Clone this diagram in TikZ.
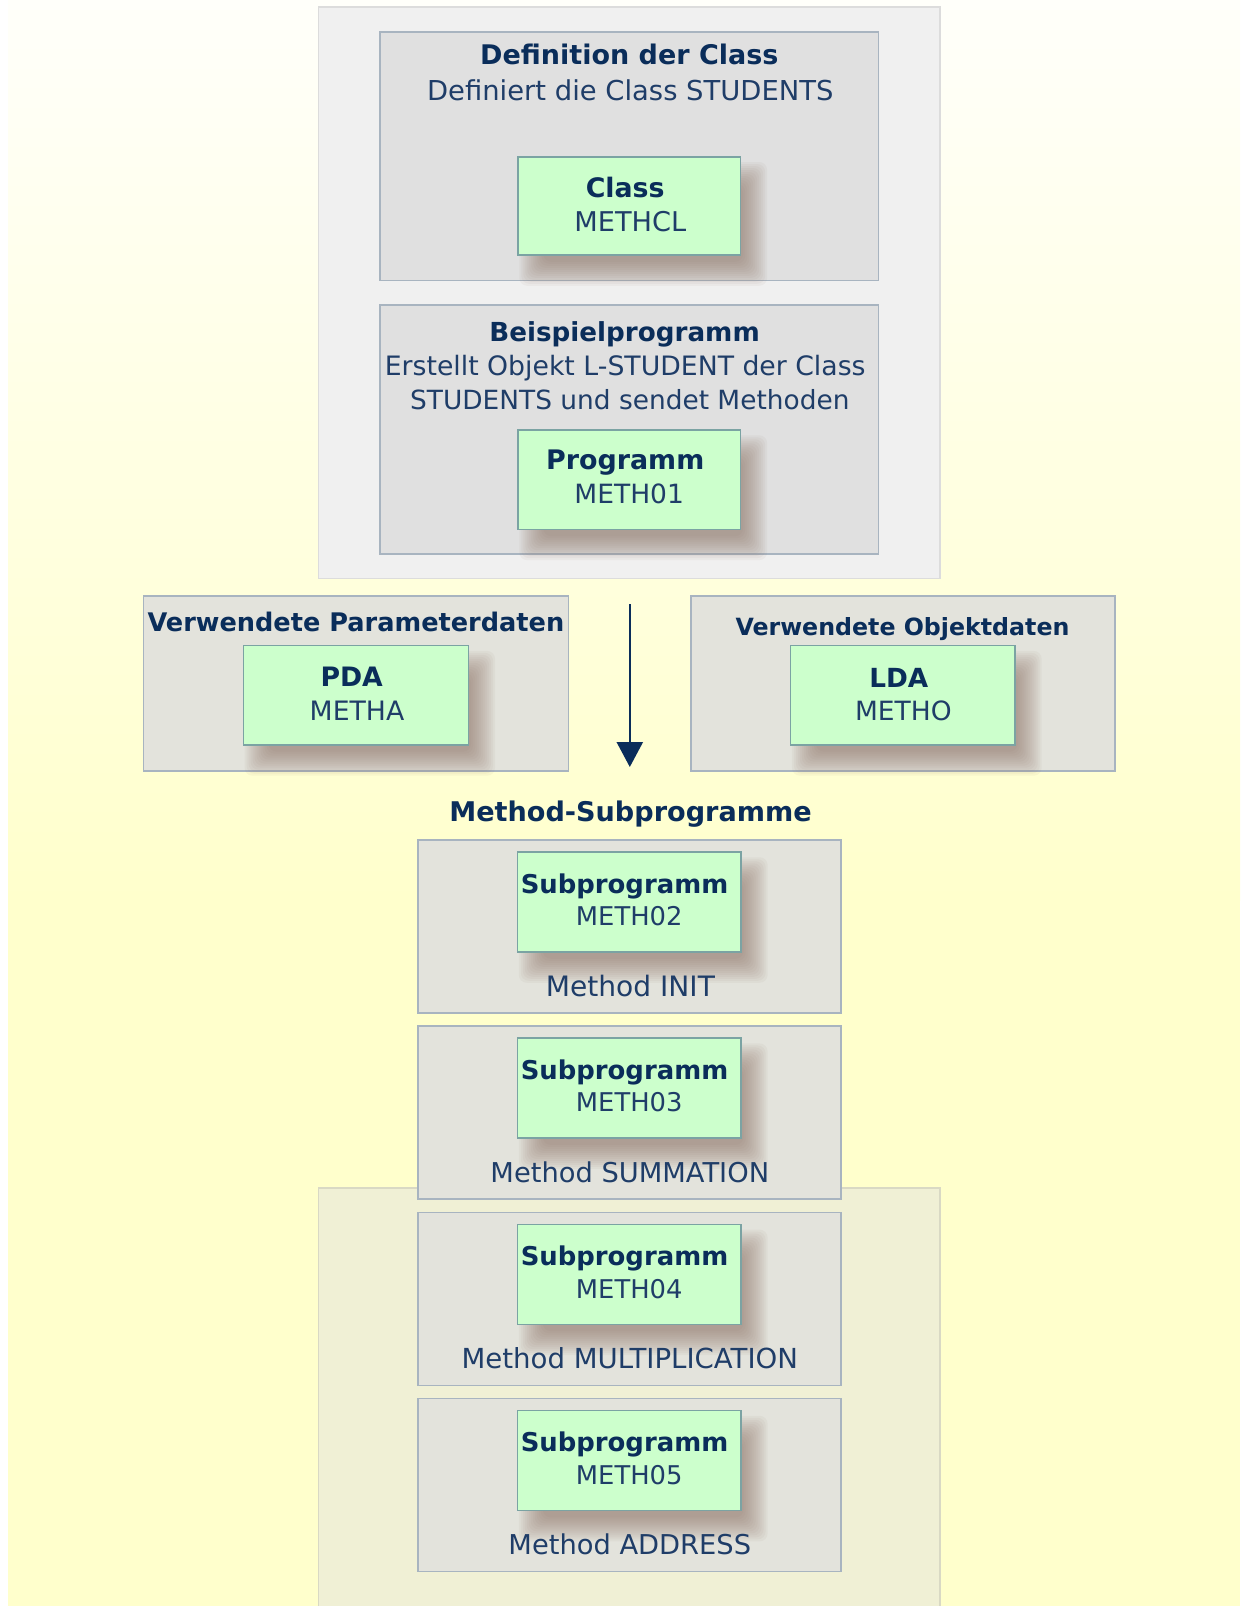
\documentclass[tikz,border=0pt]{standalone}
\usepackage{fontspec}
\setmainfont{DejaVu Sans}
\usetikzlibrary{arrows.meta}
\pgfdeclarelayer{back}
\pgfdeclarelayer{shd}
\pgfsetlayers{back,shd,main}
\definecolor{bgY}{HTML}{FFFFCC}
\definecolor{bgTop}{HTML}{FFFFFA}
\definecolor{panelTop}{HTML}{F0F0F0}
\definecolor{panelTopB}{HTML}{DCDCDC}
\definecolor{panelBot}{HTML}{F0F0D5}
\definecolor{panelBotB}{HTML}{D9D9C4}
\definecolor{boxTop}{HTML}{E0E0E0}
\definecolor{boxLow}{HTML}{E3E3DC}
\definecolor{boxB}{HTML}{A8B4C0}
\definecolor{gfill}{HTML}{CCFFCC}
\definecolor{gborder}{HTML}{7BA3A3}
\definecolor{shadowc}{HTML}{8A6E60}
\definecolor{navyB}{HTML}{0A2D5A}
\definecolor{textN}{HTML}{1F3D68}
\newcommand\myfs[1]{\fontsize{#1}{#1}\selectfont}
\newcommand\myshadow[1]{%
  \begin{pgfonlayer}{shd}
  \foreach \i in {-12,-10,...,12}{
    \fill[shadowc, fill opacity=0.06, rounded corners=8pt]
      ([shift={(14+\i,18+\i)}]#1.north west) rectangle ([shift={(14-\i,18-\i)}]#1.south east);
  }
  \end{pgfonlayer}}
\tikzset{
  panelT/.style={draw=panelTopB, fill=panelTop, line width=1.5pt, inner sep=0pt},
  panelB/.style={draw=panelBotB, fill=panelBot, line width=1.5pt, inner sep=0pt},
  greyT/.style={draw=boxB, fill=boxTop, line width=1.5pt, inner sep=0pt},
  greyL/.style={draw=boxB, fill=boxLow, line width=1.5pt, inner sep=0pt},
  gbox/.style={draw=gborder, fill=gfill, line width=1.5pt, inner sep=0pt},
  tb/.style={text=navyB, font=\bfseries, inner sep=0pt, anchor=base},
  tn/.style={text=textN, inner sep=0pt, anchor=base},
  arr/.style={line width=2.5pt, draw=navyB, -{Triangle[width=26pt,length=25pt]}}
}
\begin{document}
\begin{tikzpicture}[x=1pt,y=-1pt]
\useasboundingbox (0,0) rectangle (1240,1606);
\begin{pgfonlayer}{back}
\fill[white] (0,0) rectangle (1240,1606);
\shade[top color=bgTop, bottom color=bgY] (8,0) rectangle (1240,900);
\fill[bgY] (8,899) rectangle (1240,1606);
% top panel
\node[panelT, minimum width=621.5pt, minimum height=571.6pt] (toppanel) at (629.3,292.8) {};
\node[greyT, minimum width=498.6pt, minimum height=248.9pt] (defbox) at (629.3,156.2) {};
\node[greyT, minimum width=498.6pt, minimum height=248.8pt] (beibox) at (629.3,429.6) {};
% data boxes
\node[greyL, minimum width=424.9pt, minimum height=175pt] (pbox) at (355.9,683.3) {};
\node[greyL, minimum width=423.8pt, minimum height=175pt] (obox) at (903.1,683.3) {};
% bottom panel
\node[panelB, minimum width=621.5pt, minimum height=432pt] (botpanel) at (629.3,1403.8) {};
% subprogram boxes
\node[greyL, minimum width=422.9pt, minimum height=173pt] (s1) at (629.3,926.5) {};
\node[greyL, minimum width=422.9pt, minimum height=173pt] (s2) at (629.3,1112.7) {};
\node[greyL, minimum width=422.9pt, minimum height=173pt] (s3) at (629.3,1298.9) {};
\node[greyL, minimum width=422.9pt, minimum height=173pt] (s4) at (629.3,1485.1) {};
\end{pgfonlayer}

% Definition der Class
\node[tb] (tdef1) at (629.3,64.5) {\myfs{27}Definition der Class};
\node[tn] (tdef2) at (630.3,100) {\myfs{27.4}Definiert die Class STUDENTS};
\node[gbox, minimum width=222.4pt, minimum height=98.3pt] (classg) at (629.2,205.9) {};
\myshadow{classg}
\node[tb] (tclass1) at (625.2,197.4) {\myfs{26.8}Class};
\node[tn] (tclass2) at (630.3,231.2) {\myfs{27.2}METHCL};

% Beispielprogramm
\node[tb] (tbei1) at (624.6,341.8) {\myfs{26.2}Beispielprogramm};
\node[tn] (tbei2) at (625.2,375.6) {\myfs{26.7}Erstellt Objekt L-STUDENT der Class};
\node[tn] (tbei3) at (629.8,409.4) {\myfs{26.4}STUDENTS und sendet Methoden};
\node[gbox, minimum width=222.4pt, minimum height=99.4pt] (progg) at (629.2,479.7) {};
\myshadow{progg}
\node[tb] (tprog1) at (625.2,469.8) {\myfs{26.9}Programm};
\node[tn] (tprog2) at (629.2,503.6) {\myfs{26.5}METH01};

% Parameterdaten
\node[tb] (tpar) at (355.9,631.7) {\myfs{25.6}Verwendete Parameterdaten};
\node[gbox, minimum width=225pt, minimum height=99.3pt] (pdag) at (355.8,695.3) {};
\myshadow{pdag}
\node[tb] (tpda1) at (351.7,686) {\myfs{26.7}PDA};
\node[tn] (tpda2) at (357,720) {\myfs{26.7}METHA};

% Objektdaten
\node[tb] (tobj) at (902.5,635) {\myfs{23.7}Verwendete Objektdaten};
\node[gbox, minimum width=224.3pt, minimum height=99.3pt] (ldag) at (902.8,695.3) {};
\myshadow{ldag}
\node[tb] (tlda1) at (898.8,687) {\myfs{26.3}LDA};
\node[tn] (tlda2) at (903.3,720) {\myfs{26.5}METHO};

% arrow
\coordinate (aS) at (629.8,604);
\coordinate (aE) at (629.8,767);
\draw[arr] (aS) -- (aE);

% Method-Subprogramme
\node[tb] (tms) at (630.5,821) {\myfs{27.1}Method-Subprogramme};

% Sub 1
\node[gbox, minimum width=223.4pt, minimum height=100pt] (g1) at (629.2,902) {};
\myshadow{g1}
\node[tb] (g1a) at (624.5,893) {\myfs{25.9}Subprogramm};
\node[tn] (g1b) at (629.2,925.7) {\myfs{25.8}METH02};
\node[tn] (m1) at (630.4,996) {\myfs{28.1}Method INIT};

% Sub 2
\node[gbox, minimum width=223.4pt, minimum height=100pt] (g2) at (629.2,1088.2) {};
\myshadow{g2}
\node[tb] (g2a) at (624.5,1079.2) {\myfs{25.9}Subprogramm};
\node[tn] (g2b) at (629.2,1111.9) {\myfs{25.8}METH03};
\node[tn] (m2) at (629.8,1182.2) {\myfs{27.3}Method SUMMATION};

% Sub 3
\node[gbox, minimum width=223.4pt, minimum height=100pt] (g3) at (629.2,1274.4) {};
\myshadow{g3}
\node[tb] (g3a) at (624.5,1265.4) {\myfs{25.9}Subprogramm};
\node[tn] (g3b) at (629.2,1298.1) {\myfs{25.8}METH04};
\node[tn] (m3) at (629.8,1368.4) {\myfs{27.6}Method MULTIPLICATION};

% Sub 4
\node[gbox, minimum width=223.4pt, minimum height=100pt] (g4) at (629.2,1460.6) {};
\myshadow{g4}
\node[tb] (g4a) at (624.5,1451.6) {\myfs{25.9}Subprogramm};
\node[tn] (g4b) at (629.2,1484.3) {\myfs{25.8}METH05};
\node[tn] (m4) at (629.8,1554.6) {\myfs{27.3}Method ADDRESS};
\end{tikzpicture}
\end{document}
